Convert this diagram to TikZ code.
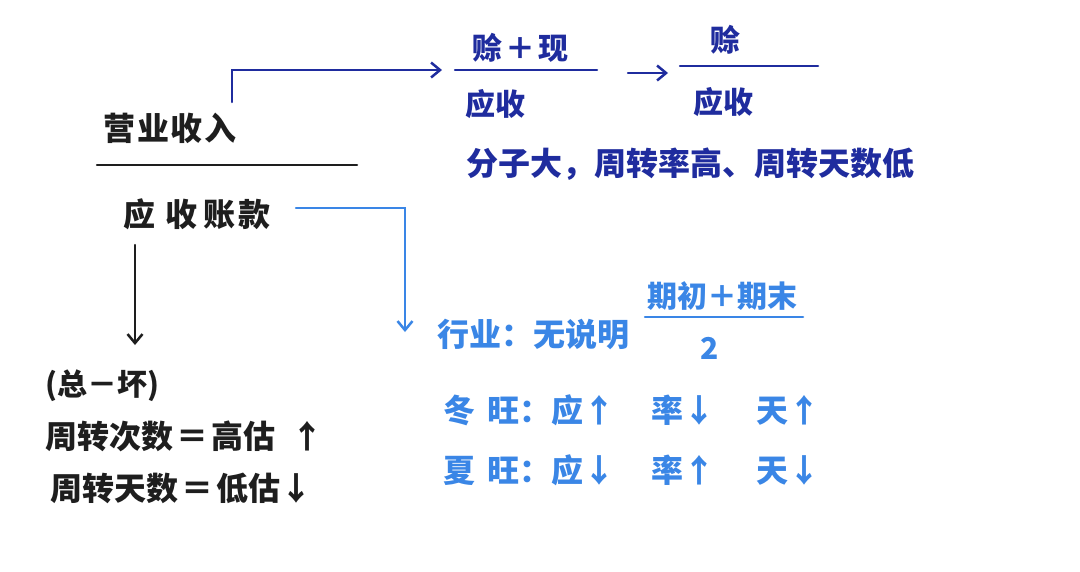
\documentclass[tikz,border=0pt]{standalone}
\usepackage{fontspec}
\setmainfont{Noto Sans CJK SC}
\usetikzlibrary{arrows.meta}
\definecolor{ink}{HTML}{1E1E1E}
\definecolor{dblue}{HTML}{1F2C9E}
\definecolor{lblue}{HTML}{3A86E6}
\tikzset{
  txt/.style={inner sep=0pt, font=\fontsize{32}{34}\selectfont\bfseries},
  stxt/.style={inner sep=0pt, font=\fontsize{30}{32}\selectfont\bfseries},
  pen/.style={line width=2.5pt, line cap=round},
  conn/.style={line width=2.5pt, line cap=round, -{Straight Barb[length=9pt,width=15pt,line width=2.5pt]}},
}
\begin{document}
\begin{tikzpicture}[x=1pt,y=-1pt]
\useasboundingbox[fill=white] (0,0) rectangle (1080,571);
% left fraction
\node[txt, text=ink] (yy) at (170,128) {营\hspace{0.05em}业\hspace{0.05em}收\hspace{0.05em}入};
\coordinate (l1a) at (97,165); \coordinate (l1b) at (357,165);
\draw[pen, ink] (l1a) -- (l1b);
\node[txt, text=ink] (ys) at (197,214) {应\hspace{0.3em}收\hspace{0.2em}账\hspace{0.1em}款};
% top right fractions
\node[stxt, text=dblue] (sx) at (520,48) {赊\hspace{0.1em}＋\hspace{0.1em}现};
\coordinate (l2a) at (455,70); \coordinate (l2b) at (597,70);
\draw[pen, dblue] (l2a) -- (l2b);
\node[stxt, text=dblue] (ys2) at (495,104) {应收};
\coordinate (ar1) at (628,73); \coordinate (ar2) at (668,73);
\draw[conn, dblue] (ar1) -- (ar2);
\node[stxt, text=dblue] (s2) at (725,40) {赊};
\coordinate (l3a) at (680,66); \coordinate (l3b) at (818,66);
\draw[pen, dblue] (l3a) -- (l3b);
\node[stxt, text=dblue] (ys3) at (723,102) {应收};
\node[txt, text=dblue] (fz) at (690,164) {分子大，周转率高、周转天数低};
% dark blue connector
\coordinate (c1) at (232,102);
\coordinate (c1e) at (442,70);
\draw[conn, dblue] (c1) |- (c1e);
% light blue connector
\coordinate (c2) at (296,208);
\coordinate (c2e) at (405,332);
\draw[conn, lblue] (c2) -| (c2e);
% blue block
\node[txt, text=lblue, anchor=west] (hy) at (437,334) {行业：无说明};
\node[stxt, text=lblue] (qc) at (722,296) {期初＋期末};
\coordinate (l4a) at (645,317); \coordinate (l4b) at (803,317);
\draw[pen, lblue] (l4a) -- (l4b);
\node[stxt, text=lblue] (two) at (710,348) {2};
\node[txt, text=lblue, anchor=west] (dw) at (443,410) {冬\hspace{0.4em}旺：应↑\hspace{1.1em}率↓\hspace{1.3em}天↑};
\node[txt, text=lblue, anchor=west] (xw) at (443,470) {夏\hspace{0.4em}旺：应↓\hspace{1.1em}率↑\hspace{1.3em}天↓};
% black arrow and notes
\coordinate (c3) at (135,245);
\coordinate (c3e) at (135,345);
\draw[conn, ink] (c3) -- (c3e);
\node[stxt, text=ink, anchor=west] (zh) at (45,386) {(总－坏)};
\node[txt, text=ink, anchor=west] (zz1) at (45,436) {周转次数\hspace{0.1em}＝\hspace{0.1em}高估\hspace{0.5em}↑};
\node[txt, text=ink, anchor=west] (zz2) at (50,488) {周转天数\hspace{0.1em}＝\hspace{0.1em}低估↓};
\end{tikzpicture}
\end{document}
